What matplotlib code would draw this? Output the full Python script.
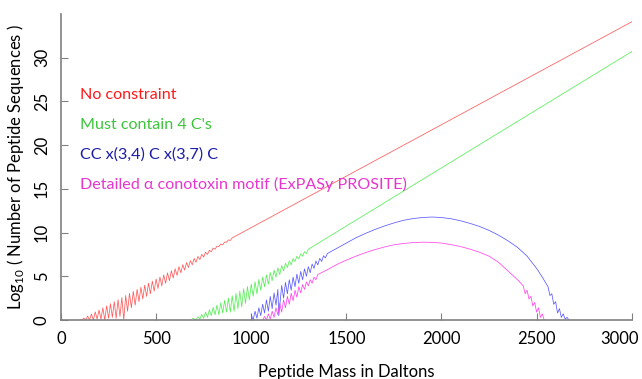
import matplotlib.pyplot as plt
import matplotlib.transforms as mtransforms

# 데이터: 펩타이드 질량(Da)과 log10(서열 수)
red_x = [100, 110, 120, 130, 140, 150, 160, 170, 180, 190, 200, 210, 220, 230, 240, 250,
         260, 270, 280, 290, 300, 310, 320, 330, 340, 350, 360, 370, 380, 390, 400, 410,
         420, 430, 440, 450, 460, 470, 480, 490, 500, 510, 520, 530, 540, 550, 560, 570,
         580, 590, 600, 610, 620, 630, 640, 650, 660, 670, 680, 690, 700, 710, 720, 730,
         740, 750, 760, 770, 780, 790, 800, 810, 820, 830, 840, 850, 860, 870, 880, 890,
         900, 1000, 2000, 3000]
red_y = [0.0, 0.0, 0.21, 0.0, 0.45, 0.0, 0.68, 0.0, 0.92, 0.1, 1.15, 0.1, 1.39, 0.0, 1.62, 0.2,
         1.86, 0.3, 2.10, 0.2, 2.33, 0.4, 2.57, 0.0, 2.80, 1.0, 3.04, 1.4, 3.27, 1.7, 3.51, 2.1,
         3.74, 2.4, 3.98, 2.7, 4.21, 3.0, 4.45, 3.3, 4.69, 3.6, 4.92, 3.9, 5.16, 4.2, 5.39, 4.5,
         5.63, 4.8, 5.86, 5.1, 6.10, 5.4, 6.33, 5.7, 6.57, 6.0, 6.80, 6.3, 7.04, 6.6, 7.27, 6.9,
         7.51, 7.2, 7.75, 7.5, 7.98, 7.8, 8.22, 8.1, 8.45, 8.4, 8.69, 8.6, 8.92, 8.9, 9.16, 9.1,
         9.39, 10.57, 22.34, 34.11]

green_x = [690, 700, 710, 720, 730, 740, 750, 760, 770, 780, 790, 800, 810, 820, 830, 840,
           850, 860, 870, 880, 890, 900, 910, 920, 930, 940, 950, 960, 970, 980, 990, 1000,
           1010, 1020, 1030, 1040, 1050, 1060, 1070, 1080, 1090, 1100, 1110, 1120, 1130, 1140,
           1150, 1160, 1170, 1180, 1190, 1200, 1210, 1220, 1230, 1240, 1250, 1260, 1270, 1280,
           1290, 1300, 1500, 2000, 2500, 3000]
green_y = [0.2, 0.11, 0.0, 0.38, 0.1, 0.64, 0.2, 0.91, 0.3, 1.17, 0.5, 1.44, 0.6, 1.71, 0.6, 1.97,
           0.8, 2.24, 0.9, 2.50, 0.9, 2.77, 1.0, 3.04, 1.3, 3.30, 1.5, 3.57, 1.9, 3.83, 2.3, 4.10,
           2.7, 4.37, 3.0, 4.63, 3.4, 4.90, 3.8, 5.16, 4.1, 5.43, 4.5, 5.70, 4.9, 5.96,
           5.2, 6.23, 5.6, 6.49, 6.0, 6.76, 6.3, 7.03, 6.7, 7.29, 7.0, 7.56, 7.3, 7.82,
           7.6, 8.09, 10.75, 17.4, 24.05, 30.7]

blue_x = [1000, 1010, 1020, 1030, 1040, 1050, 1060, 1070, 1080, 1090, 1100, 1110, 1120, 1130,
          1140, 1145, 1160, 1170, 1180, 1190, 1200, 1210, 1220, 1230, 1240, 1250, 1260, 1270,
          1280, 1290, 1300, 1310, 1320, 1330, 1340, 1350, 1360, 1370, 1380, 1390, 1400, 1450,
          1500, 1550, 1600, 1650, 1700, 1750, 1800, 1850, 1900, 1950, 2000, 2050, 2100, 2150,
          2200, 2250, 2300, 2350, 2400, 2450, 2500, 2530, 2560, 2570, 2580, 2590, 2600, 2610,
          2620, 2630, 2640, 2650, 2660, 2670]
blue_y = [0.6, 0.0, 1.0, 0.2, 1.4, 0.5, 1.8, 0.8, 2.3, 1.0, 2.7, 1.3, 3.1, 1.7,
          3.5, 0.5, 3.95, 2.5, 4.3, 3.0, 4.6, 3.4, 4.9, 3.8, 5.25, 4.2, 5.55, 4.6,
          5.85, 5.0, 6.1, 5.4, 6.4, 5.9, 6.75, 6.3, 7.05, 6.7, 7.35, 7.1, 7.6, 8.2,
          8.8, 9.4, 9.9, 10.35, 10.75, 11.1, 11.4, 11.6, 11.72, 11.78, 11.72, 11.58, 11.35, 11.05,
          10.7, 10.25, 9.7, 9.05, 8.3, 7.3, 5.9, 4.9, 3.8, 2.8, 3.0, 1.8, 2.1, 0.8,
          1.3, 0.3, 0.7, 0.1, 0.3, 0.0]

mag_x = [1060, 1070, 1080, 1090, 1100, 1110, 1120, 1130, 1140, 1150, 1160, 1170, 1180, 1190,
         1200, 1210, 1220, 1230, 1240, 1250, 1260, 1270, 1280, 1290, 1300, 1310, 1320, 1330,
         1340, 1350, 1400, 1450, 1500, 1550, 1600, 1650, 1700, 1750, 1800, 1850, 1900, 1950,
         2000, 2050, 2100, 2150, 2200, 2250, 2300, 2350, 2400, 2430, 2440, 2450, 2460, 2470,
         2480, 2490, 2500, 2510, 2520, 2530, 2540]
mag_y = [0.0, 0.4, 0.0, 0.7, 0.1, 1.0, 0.3, 1.4, 0.6, 1.9, 0.9, 2.3, 1.4, 2.7,
         1.8, 3.05, 2.2, 3.4, 2.6, 3.8, 3.1, 4.05, 3.5, 4.35, 3.9, 4.6, 4.2, 4.9,
         4.6, 5.2, 5.75, 6.35, 6.85, 7.3, 7.7, 8.05, 8.35, 8.6, 8.75, 8.85, 8.9, 8.88,
         8.8, 8.62, 8.4, 8.1, 7.75, 7.3, 6.6, 5.6, 4.6, 3.9, 3.0, 3.4, 2.4, 2.7,
         1.6, 2.0, 0.9, 1.4, 0.3, 0.7, 0.0]

labels = ['No constraint', "Must contain 4 C's", 'CC x(3,4) C x(3,7) C',
          'Detailed α conotoxin motif (ExPASy PROSITE)']
label_colors = ['#ff1a1a', '#3dc43d', '#1c1ca8', '#e636d0']

plt.rcParams['font.family'] = ['Lato', 'DejaVu Sans']
plt.rcParams['mathtext.fontset'] = 'custom'
plt.rcParams['mathtext.rm'] = 'Lato'

fig = plt.figure(figsize=(6.42, 3.79), dpi=100)
ax = fig.add_axes([0.095, 0.1557, 0.889, 0.8073])

ax.plot(red_x, red_y, color='#ff5a5a', lw=0.55)
ax.plot(green_x, green_y, color='#55ee55', lw=0.55)
ax.plot(blue_x, blue_y, color='#5a5aff', lw=0.55)
ax.plot(mag_x, mag_y, color='#ff44ee', lw=0.55)

ax.set_xlim(0, 3000)
ax.set_ylim(0, 35)
ax.set_xticks([0, 500, 1000, 1500, 2000, 2500, 3000])
ax.set_yticks([0, 5, 10, 15, 20, 25, 30])
ax.tick_params(direction='in', length=5, color='#808080', labelsize=12, pad=8)
for lab in ax.get_yticklabels():
    lab.set_rotation(90)
    lab.set_va('center')
# 마지막 눈금 라벨이 잘리지 않도록 왼쪽으로 이동
last = ax.get_xticklabels()[-1]
last.set_transform(last.get_transform() +
                   mtransforms.ScaledTranslation(-0.12, 0, fig.dpi_scale_trans))

for s in ['top', 'right']:
    ax.spines[s].set_visible(False)
for s in ['left', 'bottom']:
    ax.spines[s].set_color('#808080')
    ax.spines[s].set_linewidth(1.2)

ax.set_xlabel('Peptide Mass in Daltons', fontsize=12, labelpad=12)
ax.set_ylabel('Log$_{10}$ ( Number of Peptide Sequences )', fontsize=12, labelpad=6)

# 범례 대신 텍스트로 라벨 표시
for i, (t, c) in enumerate(zip(labels, label_colors)):
    ax.text(0.033, 0.735 - i * 0.097, t, color=c, fontsize=11.6, transform=ax.transAxes,
            va='center', ha='left')

plt.savefig('out.png', dpi=100)
